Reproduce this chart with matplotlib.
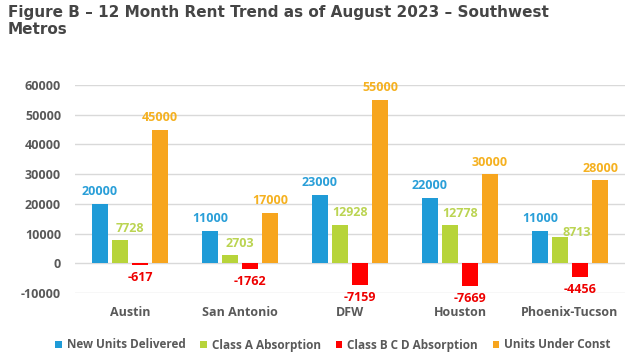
import matplotlib
matplotlib.use("Agg")
import matplotlib.pyplot as plt
import numpy as np

categories = ["Austin", "San Antonio", "DFW", "Houston", "Phoenix-Tucson"]
series_names = ["New Units Delivered", "Class A Absorption", "Class B C D Absorption", "Units Under Const"]
new_units = [20000, 11000, 23000, 22000, 11000]
class_a = [7728, 2703, 12928, 12778, 8713]
class_bcd = [-617, -1762, -7159, -7669, -4456]
under_const = [45000, 17000, 55000, 30000, 28000]
yticks = [-10000, 0, 10000, 20000, 30000, 40000, 50000, 60000]

colors = ["#1F9BD7", "#B7D43A", "#FF0000", "#F7A51E"]
label_colors = ["#2A9FD8", "#BBD452", "#EE0000", "#F5B120"]
series = [new_units, class_a, class_bcd, under_const]

# horizontal label shift per series (points), and manual nudges for single labels
series_dx = [0, 7, 0, 0]
nudges = {(1, 4): (5, -5)}

FONT = "Open Sans"

fig = plt.figure(figsize=(6.4, 3.63), dpi=100)
ax = fig.add_axes([75/640, 1-293/363, 550/640, (293-85)/363])

x = np.arange(len(categories))
w = 0.138
step = 0.182
for i, (vals, c, lc, name) in enumerate(zip(series, colors, label_colors, series_names)):
    pos = x + (i - 1.5) * step
    ax.bar(pos, vals, width=w, color=c, label=name, zorder=3)
    for j, (p, v) in enumerate(zip(pos, vals)):
        dx, dy = nudges.get((i, j), (0, 0))
        dx += series_dx[i]
        if v >= 0:
            ax.annotate(f"{v}", (p, v), xytext=(dx, 4 + dy), textcoords="offset points",
                        ha="center", va="bottom", color=lc,
                        fontsize=9, fontweight="bold", family=FONT)
        else:
            ax.annotate(f"{v}", (p, v), xytext=(dx, -4.5 + dy), textcoords="offset points",
                        ha="center", va="top", color=lc,
                        fontsize=9, fontweight="bold", family=FONT)

ax.set_xlim(-0.5, len(categories) - 0.5)
ax.set_ylim(-10000, 60000)
ax.set_yticks(yticks)
ax.set_yticklabels([str(t) for t in yticks])
ax.set_xticks(x)
ax.set_xticklabels(categories)
ax.grid(axis="y", color="#D9D9D9", linewidth=1, zorder=0)
for s in ax.spines.values():
    s.set_visible(False)
ax.tick_params(axis="both", length=0, colors="#595959", labelsize=9)
for lab in ax.get_xticklabels() + ax.get_yticklabels():
    lab.set_fontweight("bold")
    lab.set_family(FONT)
ax.tick_params(axis="y", pad=10)
ax.tick_params(axis="x", pad=9)

fig.text(8/640, 1-5/363, "Figure B \u2013 12 Month Rent Trend as of August 2023 \u2013 Southwest\nMetros",
         ha="left", va="top", fontsize=11, fontweight="bold", color="#454545",
         linespacing=1.2)

leg = fig.legend(loc="center", bbox_to_anchor=(333/640, 1-345/363), ncol=4, frameon=False,
                 prop={"family": FONT, "weight": "bold", "size": 8.5},
                 handlelength=0.57, handleheight=0.57, handletextpad=0.42,
                 columnspacing=1.25, borderaxespad=0)
for t in leg.get_texts():
    t.set_color("#595959")

fig.savefig("out.png", dpi=100)
